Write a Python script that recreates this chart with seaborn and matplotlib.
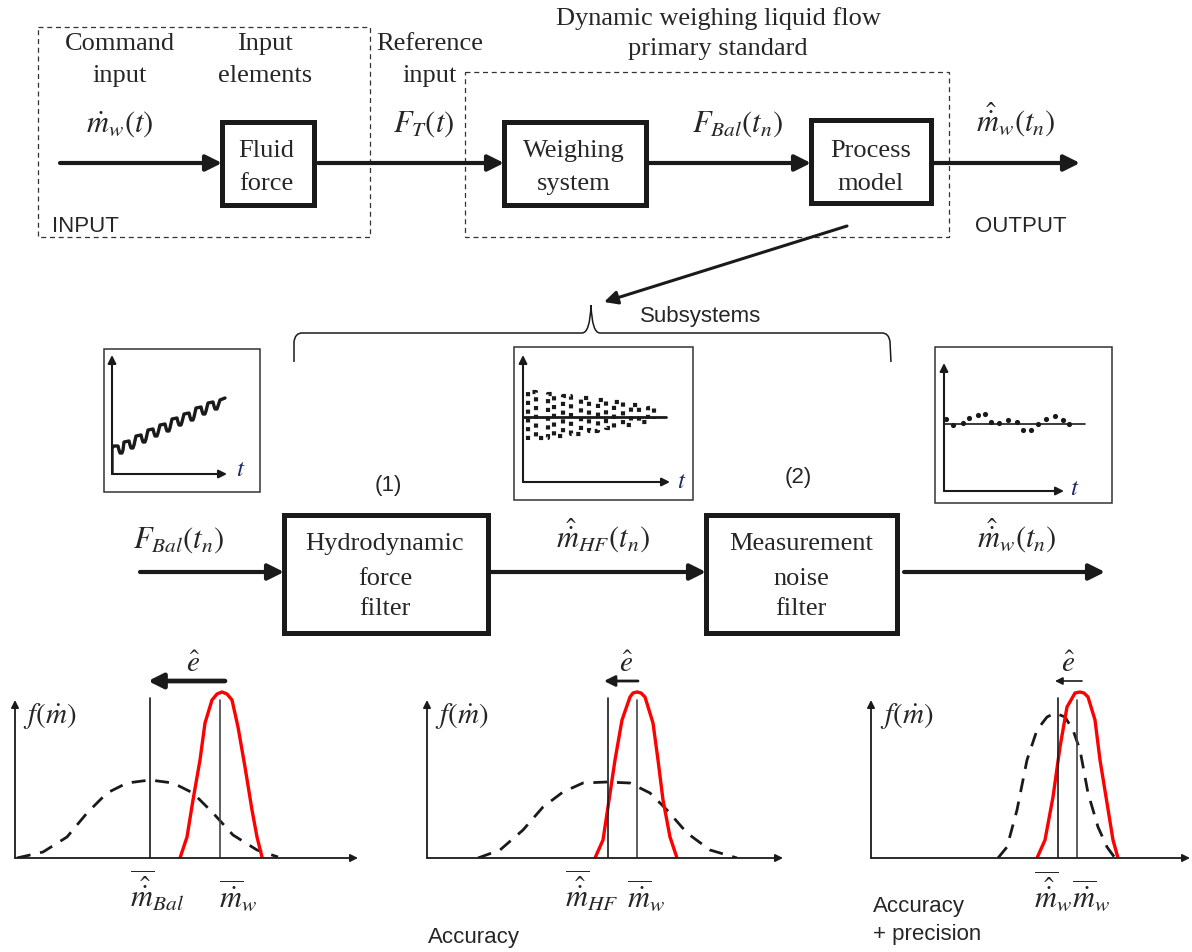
import matplotlib.pyplot as plt
import seaborn as sns
from matplotlib.patches import Rectangle, PathPatch
from matplotlib.path import Path

sns.set_theme(style='white')
plt.rcParams['font.family'] = ['Liberation Serif', 'DejaVu Serif']
plt.rcParams['mathtext.fontset'] = 'stix'

W, H = 1192, 952

### Signal sketches (inset pixel units)
# F_Bal(t_n): rising staircase
stair_t = [0, 0, 2, 6, 7, 8, 10, 11, 12, 17, 18, 19, 21, 22, 24, 29, 30, 31, 33, 34,
           36, 41, 42, 43, 45, 46, 48, 53, 54, 55, 57, 58, 60, 65, 66, 67, 69, 70,
           72, 77, 78, 79, 81, 82, 84, 89, 90, 91, 93, 94, 96, 101, 102, 103, 105, 106,
           108, 113]
stair_f = [0, 26, 28, 28, 24, 21, 21, 24, 32, 33, 29, 26, 26, 29, 38, 39, 35, 32, 32, 35,
           44, 45, 41, 38, 38, 41, 49, 50, 46, 43, 43, 46, 55, 56, 52, 49, 49, 52,
           60, 61, 57, 54, 54, 57, 66, 67, 63, 60, 60, 63, 71, 72, 68, 65, 65, 68,
           74, 76]

# m_HF(t_n): damped oscillation around the true value
osc_t = [5, 5, 13, 13, 25, 25, 31, 31, 40, 40, 48, 48, 58, 58, 66, 66, 75, 75, 83, 83,
         91, 91, 100, 100, 108, 108, 116, 116, 125, 125, 131, 131]
osc_m = [42, 90, 90, 44, 44, 88, 88, 46, 46, 86, 86, 48, 48, 84, 84, 51, 51, 82, 82, 54,
         54, 80, 80, 57, 57, 77, 77, 60, 60, 74, 74, 63]
osc_ref = 65

# m_w(t_n): filtered estimate scattered around the true value
est_t = [2, 9, 19, 25, 34, 41, 47, 55, 64, 73, 79, 87, 94, 102, 111, 119, 125]
est_m = [72, 66, 68, 73, 76, 77, 69, 68, 71, 69, 61, 61, 67, 72, 75, 71, 67]
est_ref = 67

### Probability density panels (pixel units above the baseline)
# (panel 1) balance output vs true flow
est1_x = [2, 28, 52, 72, 92, 112, 135, 158, 178, 198, 218, 242, 263]
est1_y = [0, 6, 21, 45, 65, 75, 78, 75, 65, 45, 23, 8, 1]
true1_x = [165, 172, 178, 185, 190, 197, 202, 207, 212, 217, 223, 230, 237, 242, 247]
true1_y = [0, 21, 58, 98, 135, 158, 164, 166, 164, 158, 131, 91, 48, 21, 1]
# (panel 2) after hydrodynamic force filter
est2_x = [51, 73, 96, 116, 136, 156, 180, 203, 223, 240, 260, 283, 310]
est2_y = [0, 8, 28, 51, 66, 75, 76, 75, 65, 48, 25, 8, 0]
true2_x = [168, 176, 181, 188, 195, 203, 206, 210, 214, 218, 226, 231, 236, 243, 250]
true2_y = [0, 18, 51, 98, 138, 161, 165, 166, 165, 161, 135, 98, 58, 21, 0]
# (panel 3) after measurement noise filter
est3_x = [127, 136, 146, 156, 166, 176, 184, 194, 202, 209, 217, 227, 236, 244]
est3_y = [0, 11, 48, 98, 128, 141, 145, 141, 128, 108, 65, 31, 11, 0]
true3_x = [166, 174, 182, 189, 196, 204, 209, 213, 217, 224, 229, 236, 242, 247]
true3_y = [0, 18, 61, 111, 151, 165, 166, 165, 161, 138, 98, 55, 18, 0]

est_means = [135, 181, 187]
true_means = [205, 210, 206]
axis_len = [343, 356, 319]

fig = plt.figure(figsize=(W / 100, H / 100), dpi=100)
ax = fig.add_axes([0, 0, 1, 1])
ax.set_xlim(0, W)
ax.set_ylim(H, 0)
ax.set_axis_off()


def px_axes(x0, y0, w, h):
    a = fig.add_axes([x0 / W, 1 - (y0 + h) / H, w / W, h / H])
    a.set_axis_off()
    return a


def arrow(a, x0, y0, x1, y1, lw=3, ms=24):
    a.annotate('', xy=(x1, y1), xytext=(x0, y0), annotation_clip=False,
               arrowprops=dict(arrowstyle='-|>', color='k', lw=lw, mutation_scale=ms,
                               shrinkA=0, shrinkB=0))


def block(x0, y0, x1, y1, lw=3.6):
    ax.add_patch(Rectangle((x0, y0), x1 - x0, y1 - y0, fill=False, ec='k', lw=lw))


def dashed_box(x0, y0, x1, y1):
    ax.add_patch(Rectangle((x0, y0), x1 - x0, y1 - y0, fill=False, ec='#333333',
                           lw=0.9, ls=(0, (4, 3))))


def txt(x, y, s, size=19, family='Liberation Serif', ha='center', **kw):
    ax.text(x, y, s, fontsize=size, family=family, ha=ha, va='baseline', **kw)


def vline(a, x, top, color):
    sns.lineplot(x=[x, x], y=[0, top], sort=False, estimator=None, color=color,
                 lw=1.2, ax=a)


SANS = 'Liberation Sans'

## Top row: system overview
dashed_box(38, 27, 370, 237)
dashed_box(465, 72, 949, 237)
txt(120, 50, 'Command'); txt(120, 82, 'input')
txt(265, 50, 'Input'); txt(265, 82, 'elements')
txt(430, 50, 'Reference'); txt(430, 82, 'input')
txt(718, 25, 'Dynamic weighing liquid flow')
txt(718, 55, 'primary standard')
txt(52, 232, 'INPUT', size=16, family=SANS, ha='left')
txt(975, 232, 'OUTPUT', size=16, family=SANS, ha='left')

txt(120, 132, r'$\dot{m}_w(t)$', size=22)
txt(424, 132, r'$F_T(t)$', size=22)
txt(738, 132, r'$F_{Bal}(t_n)$', size=22)
txt(1016, 132, r'$\hat{\dot{m}}_w(t_n)$', size=22)

block(222, 122, 314, 205)
txt(266, 157, 'Fluid'); txt(266, 190, 'force')
block(504, 122, 646, 205)
txt(574, 157, 'Weighing'); txt(574, 190, 'system')
block(811, 120, 931, 203)
txt(871, 157, 'Process'); txt(871, 190, 'model')

arrow(ax, 60, 163, 222, 163)
arrow(ax, 318, 163, 504, 163)
arrow(ax, 646, 163, 811, 163)
arrow(ax, 931, 163, 1080, 163)

# pointer to subsystems and brace
arrow(ax, 847, 226, 604, 302, lw=2.2, ms=20)
brace = Path([(294, 362), (294, 342), (295, 333), (302, 333), (582, 333),
              (590, 333), (591, 305), (592, 333), (600, 333), (882, 333),
              (889, 333), (890, 342), (891, 362)],
             [Path.MOVETO, Path.LINETO, Path.CURVE3, Path.CURVE3, Path.LINETO,
              Path.CURVE3, Path.CURVE3, Path.CURVE3, Path.CURVE3, Path.LINETO,
              Path.CURVE3, Path.CURVE3, Path.LINETO])
ax.add_patch(PathPatch(brace, fill=False, ec='k', lw=1.1))
txt(640, 322, 'Subsystems', size=16, family=SANS, ha='left')

## Middle row: signal sketches
for (x0, y0, x1, y1) in [(104, 349, 260, 492), (514, 347, 693, 500), (935, 347, 1112, 503)]:
    ax.add_patch(Rectangle((x0, y0), x1 - x0, y1 - y0, fill=False, ec='#333333', lw=1.1))

t_col = '#1c2a66'
a1 = px_axes(112, 349, 148, 125)
sns.lineplot(x=stair_t, y=stair_f, sort=False, estimator=None, color='k', lw=2.4, ax=a1)
arrow(a1, 0, 0, 0, 119, lw=1.5, ms=12)
arrow(a1, 0, 0, 115, 0, lw=1.5, ms=12)
a1.set_xlim(0, 148); a1.set_ylim(0, 125)
txt(241, 476, r'$t$', size=18, color=t_col)

a2 = px_axes(523, 347, 170, 135)
sns.lineplot(x=[-1, 143], y=[osc_ref, osc_ref], color='k', lw=2, ax=a2)
sns.lineplot(x=osc_t, y=osc_m, sort=False, estimator=None, color='k', lw=3,
             linestyle=(0, (1, 1.1)), ax=a2)
arrow(a2, 0, 0, 0, 127, lw=1.5, ms=12)
arrow(a2, 0, 0, 147, 0, lw=1.5, ms=12)
a2.set_xlim(0, 170); a2.set_ylim(0, 135)
txt(682, 488, r'$t$', size=18, color=t_col)

a3 = px_axes(944, 347, 168, 144)
sns.lineplot(x=[0, 141], y=[est_ref, est_ref], color='k', lw=1.2, ax=a3)
sns.scatterplot(x=est_t, y=est_m, color='k', s=14, linewidth=0, ax=a3)
arrow(a3, 0, 0, 0, 128, lw=1.5, ms=12)
arrow(a3, 0, 0, 120, 0, lw=1.5, ms=12)
a3.set_xlim(0, 168); a3.set_ylim(0, 144)
txt(1075, 495, r'$t$', size=18, color=t_col)

txt(388, 491, '(1)', size=16, family=SANS)
txt(798, 483, '(2)', size=16, family=SANS)

## Middle row: filter chain
txt(179, 548, r'$F_{Bal}(t_n)$', size=22)
txt(603, 548, r'$\hat{\dot{m}}_{HF}(t_n)$', size=22)
txt(1017, 548, r'$\hat{\dot{m}}_w(t_n)$', size=22)
block(284, 515, 488, 633)
txt(385, 550, 'Hydrodynamic'); txt(385, 585, 'force'); txt(385, 615, 'filter')
block(706, 515, 897, 633)
txt(801, 550, 'Measurement'); txt(801, 585, 'noise'); txt(801, 615, 'filter')
arrow(ax, 140, 572, 284, 572)
arrow(ax, 488, 572, 706, 572)
arrow(ax, 904, 572, 1105, 572)

## Bottom row: density panels
panels = [(15, est1_x, est1_y, true1_x, true1_y), (427, est2_x, est2_y, true2_x, true2_y),
          (871, est3_x, est3_y, true3_x, true3_y)]
err_arrows = [(210, 133, 3.4, 22), (211, 177, 2.0, 16), (211, 184, 1.2, 11)]
for i, (x0, ex, ey, tx, ty) in enumerate(panels):
    w = axis_len[i] + 8
    pa = px_axes(x0, 658, w, 200)
    sns.lineplot(x=ex, y=ey, sort=False, estimator=None, color='k', lw=2, ax=pa)
    pa.lines[-1].set_dashes((5, 3.5))
    sns.lineplot(x=tx, y=ty, sort=False, estimator=None, color='#ff0000', lw=2.4, ax=pa)
    vline(pa, est_means[i], 160, 'k')
    vline(pa, true_means[i], 158, '#444444')
    arrow(pa, 0, 0, 0, 158, lw=1.3, ms=11)
    arrow(pa, 0, 0, axis_len[i], 0, lw=1.3, ms=11)
    xs, xe, lw, ms = err_arrows[i]
    arrow(pa, xs, 177, xe, 177, lw=lw, ms=ms)
    pa.set_xlim(0, w); pa.set_ylim(0, 200)

for x in [23, 435, 880]:
    txt(x, 723, r'$f(\dot{m})$', size=21, ha='left')
for x in [193, 626, 1068]:
    txt(x, 672, r'$\hat{e}$', size=21)

txt(157, 907, r'$\overline{\hat{\dot{m}}}_{Bal}$', size=22)
txt(238, 907, r'$\overline{\dot{m}}_w$', size=22)
txt(592, 907, r'$\overline{\hat{\dot{m}}}_{HF}$', size=22)
txt(646, 907, r'$\overline{\dot{m}}_w$', size=22)
txt(1053, 907, r'$\overline{\hat{\dot{m}}}_w$', size=22)
txt(1091, 907, r'$\overline{\dot{m}}_w$', size=22)

txt(428, 943, 'Accuracy', size=16, family=SANS, ha='left')
txt(873, 912, 'Accuracy', size=16, family=SANS, ha='left')
txt(873, 940, '+ precision', size=16, family=SANS, ha='left')

fig.savefig('out.png', dpi=100)
